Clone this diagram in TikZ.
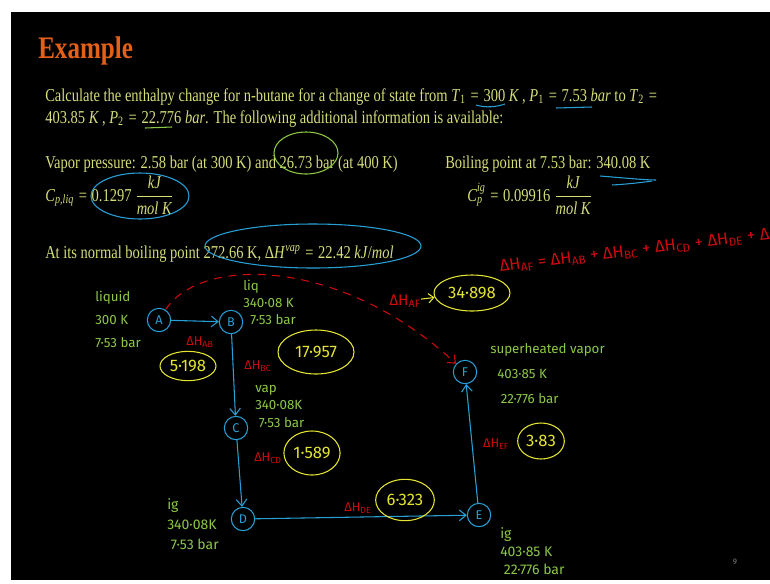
\documentclass[tikz,border=0pt]{standalone}
\usepackage{amsmath}
\usepackage{fontspec}
\setmainfont{Liberation Serif}[FakeStretch=0.8]
\newfontfamily\hand{Fira Sans}
\usetikzlibrary{shapes.geometric,arrows.meta,positioning}

\definecolor{slidetxt}{RGB}{214,222,120}
\definecolor{titleorange}{RGB}{228,96,22}
\definecolor{hgreen}{RGB}{140,200,70}
\definecolor{hred}{RGB}{205,12,12}
\definecolor{hblue}{RGB}{40,160,215}
\definecolor{hyellow}{RGB}{228,228,50}

\newcommand{\eqs}{\ \kern0.8pt=\ \kern0.8pt}

\tikzset{
  slide/.style={text=slidetxt, font=\fontsize{13.6}{16}\selectfont, inner sep=0pt, anchor=base west},
  state/.style={draw=hblue, circle, thick, text=hblue, font=\hand\fontsize{9.5}{9.5}\selectfont, inner sep=0pt, minimum size=17.5pt},
  flow/.style={draw=hblue, thick, -{Straight Barb[length=5pt,width=8pt]}},
  value/.style={draw=hyellow, ellipse, thick, text=hyellow, font=\hand\fontsize{12.5}{12.5}\selectfont, inner sep=1pt},
  hnote/.style={text=hgreen, font=\hand\fontsize{10}{14}\selectfont, align=left, inner sep=0pt, anchor=north west},
  dh/.style={text=hred, font=\hand\fontsize{9.5}{9.5}\selectfont, inner sep=0pt},
  hl/.style={draw=hblue, thick},
}

\begin{document}
\begin{tikzpicture}[x=0.75pt,y=-0.75pt]
  \fill[white] (0,0) rectangle (770,583);
  \useasboundingbox (0,0) rectangle (770,583);
  \fill[black] (11,12) rectangle (770,580);
  \begin{scope}
  \clip (11,12) rectangle (770,580);

  % slide text
  \node[anchor=base west, inner sep=0pt, text=titleorange, font=\bfseries\fontsize{23.5}{26}\selectfont] (title) at (38,58) {Example};
  \node[slide] (line1) at (45,101) {Calculate the enthalpy change for n-butane for a change of state from \textit{T}\textsubscript{1}\eqs 300 \textit{K}\,, \textit{P}\textsubscript{1}\eqs 7.53 \textit{bar} to \textit{T}\textsubscript{2}\eqs};
  \node[slide] (line2) at (45,123) {403.85 \textit{K}\,, \textit{P}\textsubscript{2}\eqs 22.776 \textit{bar}. The following additional information is available:};
  \node[slide] (vap) at (45,168) {Vapor pressure: 2.58 bar (at 300 K) and 26.73 bar (at 400 K)};
  \node[slide] (boil) at (445,168) {Boiling point at 7.53 bar: 340.08 K};
  \node[slide] (cpliq) at (45,201) {\textit{C}\textsubscript{\textit{p,liq}}\eqs 0.1297 $\displaystyle\frac{\text{\itshape kJ}}{\text{\itshape mol K}}$};
  \node[slide] (cpig) at (467,201) {\textit{C}$^{\text{\itshape ig}}_{\text{\itshape p}}$\eqs 0.09916 $\displaystyle\frac{\text{\itshape kJ}}{\text{\itshape mol K}}$};
  \node[slide] (nbp) at (45,258) {At its normal boiling point 272.66 K, Δ\textit{H}\textsuperscript{\textit{vap}}\eqs 22.42 \textit{kJ}/\textit{mol}};
  \node[text=gray, font=\hand\fontsize{6}{6}\selectfont] (page) at (735,562) {9};

  % marks on the slide text
  \draw[hl] (476,105) .. controls (486,108) and (496,107) .. (505,104);
  \draw[hl] (556,108) -- (592,107);
  \draw[hgreen, thick] (145,128) -- (172,127);
  \draw[hl] (600,176) .. controls (625,178) and (645,180) .. (656,180);
  \draw[hl] (612,185) .. controls (630,184) and (645,182) .. (652,181);
  \draw[hgreen, thick] (306,153) ellipse [x radius=32, y radius=21];
  \draw[hl] (140,196) ellipse [x radius=49, y radius=23];
  \draw[hl] (313,246) ellipse [x radius=108, y radius=22];

  % states
  \node[state] (A) at (159,320) {A};
  \node[state] (B) at (231,322) {B};
  \node[state] (C) at (236,428) {C};
  \node[state] (D) at (243,519) {D};
  \node[state] (E) at (479,515) {E};
  \node[state] (F) at (465,372) {F};
  \draw[flow] (A) -- (B);
  \draw[flow] (B) -- (C);
  \draw[flow] (C) -- (D);
  \draw[flow] (D) -- (E);
  \draw[flow] (E) -- (F);
  \draw[hred, thick, dash pattern=on 6pt off 5pt, -{Straight Barb[length=5pt,width=8pt]}] (A) .. controls (200,256) and (340,256) .. (F);

  % conditions
  \node[hnote, font=\hand\fontsize{10}{17}\selectfont] (nA) at (95,291) {liquid\\300 K\\7·53 bar};
  \node[hnote, font=\hand\fontsize{10}{12.5}\selectfont] (nB) at (243,280) {liq\\340·08 K\\\ \ 7·53 bar};
  \node[hnote, font=\hand\fontsize{10}{13}\selectfont] (nC) at (255,385) {vap\\340·08K\\\ 7·53 bar};
  \node[hnote, font=\hand\fontsize{10.5}{15}\selectfont] (nD) at (167,498) {ig\\340·08K\\\ 7·53 bar};
  \node[hnote, font=\hand\fontsize{10.5}{13.5}\selectfont] (nE) at (500,527) {ig\\403·85 K\\\ 22·776 bar};
  \node[hnote, font=\hand\fontsize{10}{19}\selectfont] (nF) at (490,343) {superheated vapor\\\ \ 403·85 K\\\ \ \ 22·776 bar};

  % enthalpy changes
  \node[dh] (lAB) at (200,342) {ΔH\textsubscript{AB}};
  \node[dh] (lBC) at (258,366) {ΔH\textsubscript{BC}};
  \node[dh] (lCD) at (268,458) {ΔH\textsubscript{CD}};
  \node[dh] (lDE) at (358,508) {ΔH\textsubscript{DE}};
  \node[dh] (lEF) at (496,444) {ΔH\textsubscript{EF}};
  \node[dh, font=\hand\fontsize{11.5}{11.5}\selectfont] (lAF) at (405,301) {ΔH\textsubscript{AF}};
  \node[value, minimum width=42pt, minimum height=22pt] (vAB) at (188,366) {5·198};
  \node[value, minimum width=57pt, minimum height=33pt] (vBC) at (316,352) {17·957};
  \node[value, minimum width=42pt, minimum height=33pt] (vCD) at (312,453) {1·589};
  \node[value, minimum width=44pt, minimum height=31pt] (vDE) at (405,500) {6·323};
  \node[value, minimum width=35pt, minimum height=27pt] (vEF) at (541,441) {3·83};
  \node[value, minimum width=57pt, minimum height=27pt] (vAF) at (472,293) {34·898};
  \draw[hyellow, thick, -{Straight Barb[length=4pt,width=7pt]}] (lAF) -- (vAF);

  % path sum
  \node[dh, anchor=base west, rotate=7, font=\hand\fontsize{12.5}{12.5}\selectfont] (sum) at (500,272) {ΔH\textsubscript{AF} = ΔH\textsubscript{AB} + ΔH\textsubscript{BC} + ΔH\textsubscript{CD} + ΔH\textsubscript{DE} + ΔH\textsubscript{EF}};
  \end{scope}
\end{tikzpicture}
\end{document}
